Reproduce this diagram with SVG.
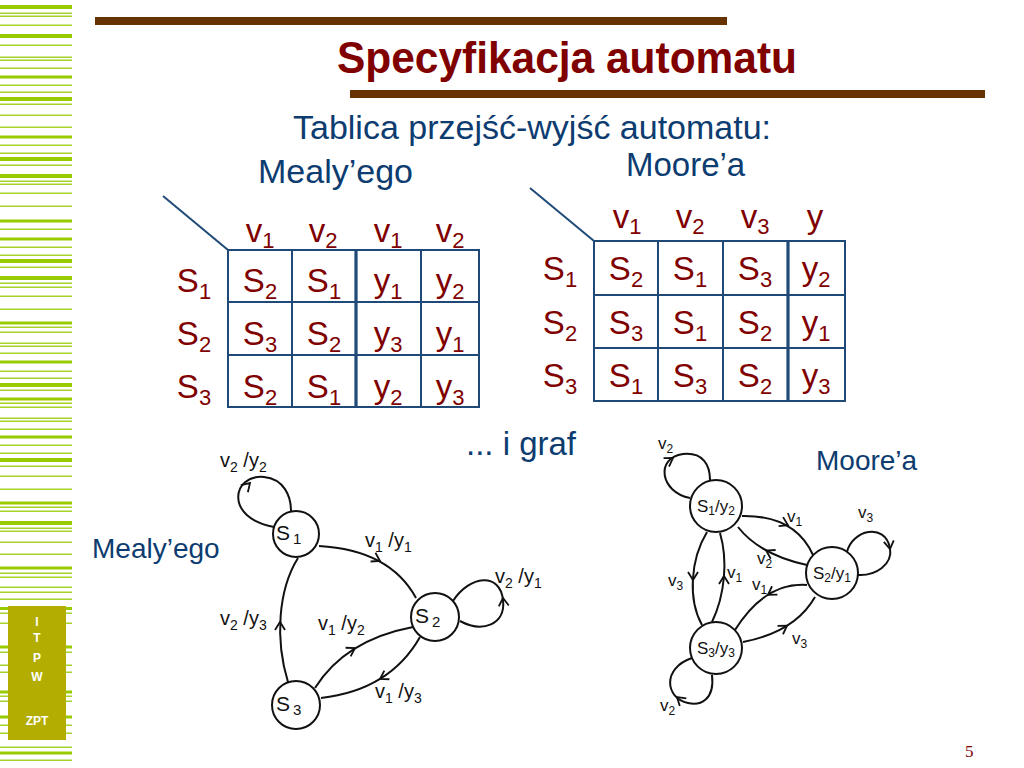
<svg xmlns="http://www.w3.org/2000/svg" width="1024" height="768" viewBox="0 0 1024 768">
<style>
text{font-family:"Liberation Sans",Arial,sans-serif}
.st{fill:#99cc00}
.sl{fill:#a6d22a}
.bar{fill:#663300}
.title{font-size:44px;font-weight:bold;fill:#800000}
.blue{fill:#0d3c70;font-size:33px}
.blue2{fill:#0d3c70;font-size:28px}
.tb{font-size:33px;fill:#800000}
.sb{font-size:22px}
.grid{stroke:#1f4a78;stroke-width:2;fill:none}
.gridk{stroke:#1f4a78;stroke-width:3.2;fill:none}
.e{fill:none;stroke:#111;stroke-width:2}
.n{fill:#fff;stroke:#111;stroke-width:2}
.ah{fill:none;stroke:none}
.ml{font-size:20px;fill:#111}
.ms{font-size:14px}
.ol{font-size:17px;fill:#111}
.os{font-size:12px}
.logo{font-size:12px;font-weight:bold;fill:#fff}
</style>
<defs>
<marker id="ch" markerWidth="14" markerHeight="14" refX="10" refY="7" orient="auto" markerUnits="userSpaceOnUse">
<path d="M2,2 L10,7 L2,12" fill="none" stroke="#111" stroke-width="1.8"/>
</marker>
</defs>
<rect width="1024" height="768" fill="#fff"/>
<g id="stripes">
<rect class="st" x="0" y="5" width="72" height="4"/>
<rect class="sl" x="0" y="12.5" width="72" height="1.5"/>
<rect class="sl" x="0" y="15.5" width="72" height="1.5"/>
<rect class="sl" x="0" y="24.5" width="72" height="1.5"/>
<rect class="st" x="0" y="34" width="72" height="4"/>
<rect class="sl" x="0" y="44.5" width="72" height="1.5"/>
<rect class="sl" x="0" y="56.5" width="72" height="1.5"/>
<rect class="sl" x="0" y="59.5" width="72" height="1.5"/>
<rect class="sl" x="0" y="67.5" width="72" height="1.5"/>
<rect class="st" x="0" y="75.5" width="72" height="3"/>
<rect class="sl" x="0" y="84.5" width="72" height="1.5"/>
<rect class="sl" x="0" y="91.5" width="72" height="1.5"/>
<rect class="st" x="0" y="97" width="72" height="4"/>
<rect class="sl" x="0" y="103.5" width="72" height="1.5"/>
<rect class="sl" x="0" y="114.5" width="72" height="1.5"/>
<rect class="sl" x="0" y="126.5" width="72" height="1.5"/>
<rect class="st" x="0" y="135.5" width="72" height="3"/>
<rect class="sl" x="0" y="144.5" width="72" height="1.5"/>
<rect class="sl" x="0" y="152.5" width="72" height="1.5"/>
<rect class="st" x="0" y="157" width="72" height="4"/>
<rect class="sl" x="0" y="164.5" width="72" height="1.5"/>
<rect class="st" x="0" y="174" width="72" height="4"/>
<rect class="sl" x="0" y="180.5" width="72" height="1.5"/>
<rect class="sl" x="0" y="183.5" width="72" height="1.5"/>
<rect class="sl" x="0" y="192.5" width="72" height="1.5"/>
<rect class="sl" x="0" y="205.5" width="72" height="1.5"/>
<rect class="st" x="0" y="219.5" width="72" height="3"/>
<rect class="sl" x="0" y="228.5" width="72" height="1.5"/>
<rect class="st" x="0" y="237.5" width="72" height="3"/>
<rect class="sl" x="0" y="246.5" width="72" height="1.5"/>
<rect class="sl" x="0" y="254.5" width="72" height="1.5"/>
<rect class="st" x="0" y="259" width="72" height="4"/>
<rect class="sl" x="0" y="266.5" width="72" height="1.5"/>
<rect class="st" x="0" y="276" width="72" height="4"/>
<rect class="sl" x="0" y="282.5" width="72" height="1.5"/>
<rect class="sl" x="0" y="286.5" width="72" height="1.5"/>
<rect class="sl" x="0" y="295.5" width="72" height="1.5"/>
<rect class="sl" x="0" y="308.5" width="72" height="1.5"/>
<rect class="st" x="0" y="321.5" width="72" height="3"/>
<rect class="sl" x="0" y="326.5" width="72" height="1.5"/>
<rect class="sl" x="0" y="331.5" width="72" height="1.5"/>
<rect class="sl" x="0" y="342.5" width="72" height="1.5"/>
<rect class="sl" x="0" y="345.5" width="72" height="1.5"/>
<rect class="sl" x="0" y="352.5" width="72" height="1.5"/>
<rect class="st" x="0" y="360.5" width="72" height="3"/>
<rect class="sl" x="0" y="370.5" width="72" height="1.5"/>
<rect class="sl" x="0" y="377.5" width="72" height="1.5"/>
<rect class="st" x="0" y="383" width="72" height="4"/>
<rect class="sl" x="0" y="389.5" width="72" height="1.5"/>
<rect class="st" x="0" y="397.5" width="72" height="3"/>
<rect class="sl" x="0" y="402.5" width="72" height="1.5"/>
<rect class="sl" x="0" y="406.5" width="72" height="1.5"/>
<rect class="sl" x="0" y="417.5" width="72" height="1.5"/>
<rect class="sl" x="0" y="420.5" width="72" height="1.5"/>
<rect class="sl" x="0" y="428.5" width="72" height="1.5"/>
<rect class="st" x="0" y="435.5" width="72" height="3"/>
<rect class="sl" x="0" y="444.5" width="72" height="1.5"/>
<rect class="sl" x="0" y="452.5" width="72" height="1.5"/>
<rect class="st" x="0" y="458" width="72" height="4"/>
<rect class="sl" x="0" y="465.5" width="72" height="1.5"/>
<rect class="sl" x="0" y="475.5" width="72" height="1.5"/>
<rect class="sl" x="0" y="488.5" width="72" height="1.5"/>
<rect class="st" x="0" y="501.5" width="72" height="3"/>
<rect class="sl" x="0" y="506.5" width="72" height="1.5"/>
<rect class="sl" x="0" y="510.5" width="72" height="1.5"/>
<rect class="st" x="0" y="521" width="72" height="4"/>
<rect class="sl" x="0" y="527.5" width="72" height="1.5"/>
<rect class="sl" x="0" y="530.5" width="72" height="1.5"/>
<rect class="sl" x="0" y="541.5" width="72" height="1.5"/>
<rect class="sl" x="0" y="553.5" width="72" height="1.5"/>
<rect class="st" x="0" y="566.5" width="72" height="3"/>
<rect class="sl" x="0" y="572.5" width="72" height="1.5"/>
<rect class="sl" x="0" y="576.5" width="72" height="1.5"/>
<rect class="sl" x="0" y="586.5" width="72" height="1.5"/>
<rect class="sl" x="0" y="591.5" width="72" height="1.5"/>
<rect class="sl" x="0" y="598.5" width="72" height="1.5"/>
<rect class="st" x="0" y="607" width="72" height="3"/>
<rect class="sl" x="0" y="612.5" width="72" height="1.5"/>
<rect class="sl" x="0" y="622.5" width="72" height="1.5"/>
<rect class="st" x="0" y="645.5" width="72" height="3"/>
<rect class="sl" x="0" y="651.5" width="72" height="1.5"/>
<rect class="sl" x="0" y="664.5" width="72" height="1.5"/>
<rect class="sl" x="0" y="671.5" width="72" height="1.5"/>
<rect class="st" x="0" y="690.5" width="72" height="3"/>
<rect class="sl" x="0" y="695.5" width="72" height="1.5"/>
<rect class="sl" x="0" y="700.5" width="72" height="1.5"/>
<rect class="st" x="0" y="715.5" width="72" height="3"/>
<rect class="sl" x="0" y="724.5" width="72" height="1.5"/>
<rect class="sl" x="0" y="732.5" width="72" height="1.5"/>
<rect class="sl" x="0" y="746.5" width="72" height="1.5"/>
<rect class="st" x="0" y="751.5" width="72" height="3"/>
<rect class="sl" x="0" y="759.5" width="72" height="1.5"/>
</g>
<g id="logo">
<rect x="8" y="606" width="58" height="134" fill="#b2ad00"/>
<text class="logo" x="37" y="626" text-anchor="middle">I</text>
<text class="logo" x="37" y="642" text-anchor="middle">T</text>
<text class="logo" x="37" y="662" text-anchor="middle">P</text>
<text class="logo" x="37" y="681" text-anchor="middle">W</text>
<text class="logo" x="37" y="725" text-anchor="middle">ZPT</text>
</g>
<g id="header">
<rect class="bar" x="95" y="17" width="632" height="8"/>
<rect class="bar" x="350" y="90" width="635" height="8"/>
<text class="title" x="337" y="73" textLength="460" lengthAdjust="spacingAndGlyphs">Specyfikacja automatu</text>
<text class="blue" x="293" y="139" style="font-size:34px">Tablica przejść-wyjść automatu:</text>
<text class="blue" x="258" y="183" style="font-size:34px">Mealy’ego</text>
<text class="blue" x="626" y="176">Moore’a</text>
<text class="blue" x="466" y="455">... i graf</text>
<text class="blue2" x="92" y="558">Mealy’ego</text>
<text class="blue2" x="816" y="470">Moore’a</text>
<text x="965" y="757" style="font-family:'Liberation Serif',serif;font-size:17px;fill:#800000">5</text>
</g>
<g id="mealy-table">
<path class="grid" d="M163,196 L228,250"/>
<rect class="grid" x="228" y="250" width="251" height="157"/>
<path class="grid" d="M292,250 V407 M421,250 V407 M228,302 H479 M228,355 H479"/>
<path class="gridk" d="M356,250 V407"/>
<g class="tb" text-anchor="middle">
<text x="260" y="242">v<tspan class="sb" dy="6">1</tspan></text>
<text x="323" y="242">v<tspan class="sb" dy="6">2</tspan></text>
<text x="388" y="242">v<tspan class="sb" dy="6">1</tspan></text>
<text x="450" y="242">v<tspan class="sb" dy="6">2</tspan></text>
<text x="194" y="292">S<tspan class="sb" dy="7">1</tspan></text>
<text x="194" y="345">S<tspan class="sb" dy="7">2</tspan></text>
<text x="194" y="398">S<tspan class="sb" dy="7">3</tspan></text>
<text x="260" y="292">S<tspan class="sb" dy="7">2</tspan></text>
<text x="324" y="292">S<tspan class="sb" dy="7">1</tspan></text>
<text x="388" y="292">y<tspan class="sb" dy="7">1</tspan></text>
<text x="450" y="292">y<tspan class="sb" dy="7">2</tspan></text>
<text x="260" y="345">S<tspan class="sb" dy="7">3</tspan></text>
<text x="324" y="345">S<tspan class="sb" dy="7">2</tspan></text>
<text x="388" y="345">y<tspan class="sb" dy="7">3</tspan></text>
<text x="450" y="345">y<tspan class="sb" dy="7">1</tspan></text>
<text x="260" y="398">S<tspan class="sb" dy="7">2</tspan></text>
<text x="324" y="398">S<tspan class="sb" dy="7">1</tspan></text>
<text x="388" y="398">y<tspan class="sb" dy="7">2</tspan></text>
<text x="450" y="398">y<tspan class="sb" dy="7">3</tspan></text>
</g>
</g>
<g id="moore-table">
<path class="grid" d="M530,188 L594,241"/>
<rect class="grid" x="594" y="241" width="251" height="160"/>
<path class="grid" d="M658,241 V401 M723,241 V401 M594,295 H845 M594,348 H845"/>
<path class="gridk" d="M788,241 V401"/>
<g class="tb" text-anchor="middle">
<text x="627" y="228">v<tspan class="sb" dy="6">1</tspan></text>
<text x="690" y="228">v<tspan class="sb" dy="6">2</tspan></text>
<text x="755" y="228">v<tspan class="sb" dy="6">3</tspan></text>
<text x="815" y="228">y</text>
<text x="560" y="280">S<tspan class="sb" dy="7">1</tspan></text>
<text x="560" y="334">S<tspan class="sb" dy="7">2</tspan></text>
<text x="560" y="387">S<tspan class="sb" dy="7">3</tspan></text>
<text x="626" y="280">S<tspan class="sb" dy="7">2</tspan></text>
<text x="690" y="280">S<tspan class="sb" dy="7">1</tspan></text>
<text x="755" y="280">S<tspan class="sb" dy="7">3</tspan></text>
<text x="816" y="280">y<tspan class="sb" dy="7">2</tspan></text>
<text x="626" y="334">S<tspan class="sb" dy="7">3</tspan></text>
<text x="690" y="334">S<tspan class="sb" dy="7">1</tspan></text>
<text x="755" y="334">S<tspan class="sb" dy="7">2</tspan></text>
<text x="816" y="334">y<tspan class="sb" dy="7">1</tspan></text>
<text x="626" y="387">S<tspan class="sb" dy="7">1</tspan></text>
<text x="690" y="387">S<tspan class="sb" dy="7">3</tspan></text>
<text x="755" y="387">S<tspan class="sb" dy="7">2</tspan></text>
<text x="816" y="387">y<tspan class="sb" dy="7">3</tspan></text>
</g>
</g>
<g id="connectors">
<path class="e" d="M274,527 C224,518 232,474 264,477 C284,479 291,496 291,511"/>
<path class="ah" d="M248.6,484.4 L250,483" marker-end="url(#ch)"/>
<path class="e" d="M319,546 Q390,550 416,598"/>
<path class="ah" d="M378.2,560 L380,561" marker-end="url(#ch)"/>
<path class="e" d="M460,621 C482,633 506,625 503,600 C500,572 470,575 453,601"/>
<path class="ah" d="M503.2,600 L503,598" marker-end="url(#ch)"/>
<path class="e" d="M288,682 C275,640 278,590 298,558"/>
<path class="ah" d="M280,624 L280,622" marker-end="url(#ch)"/>
<path class="e" d="M315,688 Q345,640 413,627"/>
<path class="ah" d="M353.3,649 L355,648" marker-end="url(#ch)"/>
<path class="e" d="M420,637 Q390,690 321,698"/>
<path class="ah" d="M381.7,678 L380,679" marker-end="url(#ch)"/>
<path class="e" d="M690,498 C660,492 655,458 683,454 C703,452 710,465 710,480"/>
<path class="ah" d="M671.3,459.1 L673,458" marker-end="url(#ch)"/>
<path class="e" d="M742,516 Q795,515 813,555"/>
<path class="ah" d="M786.2,524.3 L788,525.2" marker-end="url(#ch)"/>
<path class="e" d="M807,565 Q760,555 738,527"/>
<path class="ah" d="M768,551.5 L766.2,550.5" marker-end="url(#ch)"/>
<path class="e" d="M707,532 C690,560 688,600 702,625"/>
<path class="ah" d="M693,578 L693,580" marker-end="url(#ch)"/>
<path class="e" d="M712,622 C725,595 728,560 720,533"/>
<path class="ah" d="M724,578 L724,576" marker-end="url(#ch)"/>
<path class="e" d="M807,585 Q765,582 735,630"/>
<path class="ah" d="M769.7,593.7 L768,594.8" marker-end="url(#ch)"/>
<path class="e" d="M743,642 Q795,632 815,597"/>
<path class="ah" d="M785.3,626.8 L787,625.7" marker-end="url(#ch)"/>
<path class="e" d="M847,552 C852,530 885,522 890,548 C893,565 875,576 858,575"/>
<path class="ah" d="M889.7,547 L890,549" marker-end="url(#ch)"/>
<path class="e" d="M712,675 C715,700 700,706 688,703 C665,698 662,668 692,658"/>
<path class="ah" d="M678.5,698.3 L677,697" marker-end="url(#ch)"/>
</g>
<g id="mealy-labels" class="ml">
<text x="220" y="467">v<tspan class="ms" dy="5">2</tspan><tspan dy="-5"> /y</tspan><tspan class="ms" dy="5">2</tspan></text>
<text x="365" y="547">v<tspan class="ms" dy="5">1</tspan><tspan dy="-5"> /y</tspan><tspan class="ms" dy="5">1</tspan></text>
<text x="495" y="583">v<tspan class="ms" dy="5">2</tspan><tspan dy="-5"> /y</tspan><tspan class="ms" dy="5">1</tspan></text>
<text x="220" y="625">v<tspan class="ms" dy="5">2</tspan><tspan dy="-5"> /y</tspan><tspan class="ms" dy="5">3</tspan></text>
<text x="318" y="630">v<tspan class="ms" dy="5">1</tspan><tspan dy="-5"> /y</tspan><tspan class="ms" dy="5">2</tspan></text>
<text x="375" y="698">v<tspan class="ms" dy="5">1</tspan><tspan dy="-5"> /y</tspan><tspan class="ms" dy="5">3</tspan></text>
</g>
<g id="moore-labels" class="ol">
<text x="658" y="449">v<tspan class="os" dy="4">2</tspan></text>
<text x="787" y="522">v<tspan class="os" dy="4">1</tspan></text>
<text x="858" y="518">v<tspan class="os" dy="4">3</tspan></text>
<text x="757" y="564">v<tspan class="os" dy="4">2</tspan></text>
<text x="668" y="586">v<tspan class="os" dy="4">3</tspan></text>
<text x="727" y="578">v<tspan class="os" dy="4">1</tspan></text>
<text x="752" y="590">v<tspan class="os" dy="4">1</tspan></text>
<text x="792" y="644">v<tspan class="os" dy="4">3</tspan></text>
<text x="660" y="711">v<tspan class="os" dy="4">2</tspan></text>
</g>
<g id="mS1"><circle class="n" cx="296" cy="534" r="23"/><text class="ml" x="276" y="540" style="font-size:21px">S<tspan class="ms" dx="3" dy="4" style="font-size:15px">1</tspan></text></g>
<g id="mS2"><circle class="n" cx="435" cy="617" r="24"/><text class="ml" x="415" y="623" style="font-size:21px">S<tspan class="ms" dx="3" dy="4" style="font-size:15px">2</tspan></text></g>
<g id="mS3"><circle class="n" cx="296" cy="705" r="24"/><text class="ml" x="276" y="711" style="font-size:21px">S<tspan class="ms" dx="3" dy="4" style="font-size:15px">3</tspan></text></g>
<g id="oS1"><circle class="n" cx="716" cy="506" r="26"/><text class="ol" x="716" y="512" text-anchor="middle">S<tspan class="os" dy="3">1</tspan><tspan dy="-3">/y</tspan><tspan class="os" dy="3">2</tspan></text></g>
<g id="oS2"><circle class="n" cx="832" cy="573" r="26"/><text class="ol" x="832" y="579" text-anchor="middle">S<tspan class="os" dy="3">2</tspan><tspan dy="-3">/y</tspan><tspan class="os" dy="3">1</tspan></text></g>
<g id="oS3"><circle class="n" cx="716" cy="648" r="26"/><text class="ol" x="716" y="654" text-anchor="middle">S<tspan class="os" dy="3">3</tspan><tspan dy="-3">/y</tspan><tspan class="os" dy="3">3</tspan></text></g>
</svg>
